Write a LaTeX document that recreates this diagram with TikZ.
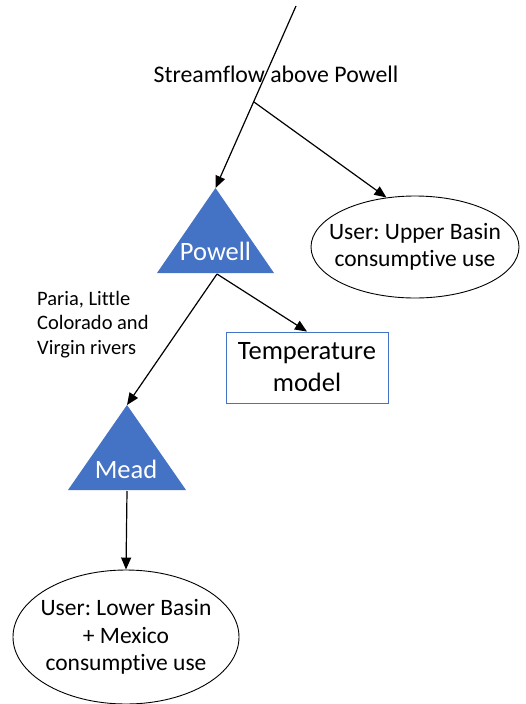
\documentclass[tikz,border=0pt]{standalone}
\usepackage{fontspec}
\setmainfont{Carlito}[Ligatures=NoCommon]
\frenchspacing
\usetikzlibrary{arrows.meta,positioning,shapes.geometric}

% Office blue
\definecolor{r68g114b196}{rgb}{0.266667,0.447059,0.768627}

\begin{document}
\begin{tikzpicture}[x=1pt,y=-1pt,
    flow/.style={line width=1.2pt,-{Triangle[length=12pt,width=10pt]}},
    user/.style={draw,ellipse,line width=0.9pt,inner sep=0pt},
    usertext/.style={align=center,font=\fontsize{23.5}{27.5}\selectfont},
    lake/.style={fill=r68g114b196},
    laketext/.style={text=white,anchor=base,inner sep=0pt,font=\fontsize{26.5}{30}\selectfont},
    modelbox/.style={draw=r68g114b196,line width=0.9pt,minimum width=162pt,minimum height=71pt,
        inner sep=0pt,align=center,font=\fontsize{26.5}{32}\selectfont}]
    \useasboundingbox (0,0) rectangle (526,704);

    % Points on the main stem
    \coordinate (src) at (296,6);
    \coordinate (split) at (254,102);
    \coordinate (powell) at (215.5,188);
    \coordinate (powellbase) at (217,274);
    \coordinate (mead) at (127,405);
    \coordinate (meadbase) at (127,491);

    % Filling triangle Powell
    \fill[lake] (powell) -- (157,273) -- (274,273) -- cycle;
    \node[laketext] (powelltxt) at (215.5,260) {Powell};

    % Filling triangle Mead
    \fill[lake] (mead) -- (68,490) -- (186,490) -- cycle;
    \node[laketext] (meadtxt) at (126,478) {Mead};

    % Users and model
    \node[user,minimum width=208pt,minimum height=102pt,
        label={[usertext]center:User: Upper Basin\\consumptive use}] (upper) at (415,247) {};
    \node[user,minimum width=226pt,minimum height=134pt,
        label={[usertext]center:User: Lower Basin\\+ Mexico\\consumptive use}] (lower) at (126,637) {};
    \node[modelbox] (temp) at (307,367.5) {Temperature\\model};

    % Labels
    \node[anchor=base,inner sep=0pt,font=\fontsize{23.8}{28}\selectfont] (streamlbl) at (276,82) {Streamflow above Powell};
    \node[anchor=base west,align=left,inner sep=0pt,font=\fontsize{20.5}{24.5}\selectfont]
        (tribs) at (37,354) {Paria, Little\\Colorado and\\Virgin rivers};

    % Drawing flows
    \draw[flow] (src) -- (powell);
    \draw[flow] (split) -- (upper.120);
    \draw[flow] (powellbase) -- (temp.north);
    \draw[flow] (powellbase) -- (mead);
    \draw[flow] (meadbase) -- (lower.north);
\end{tikzpicture}
\end{document}
